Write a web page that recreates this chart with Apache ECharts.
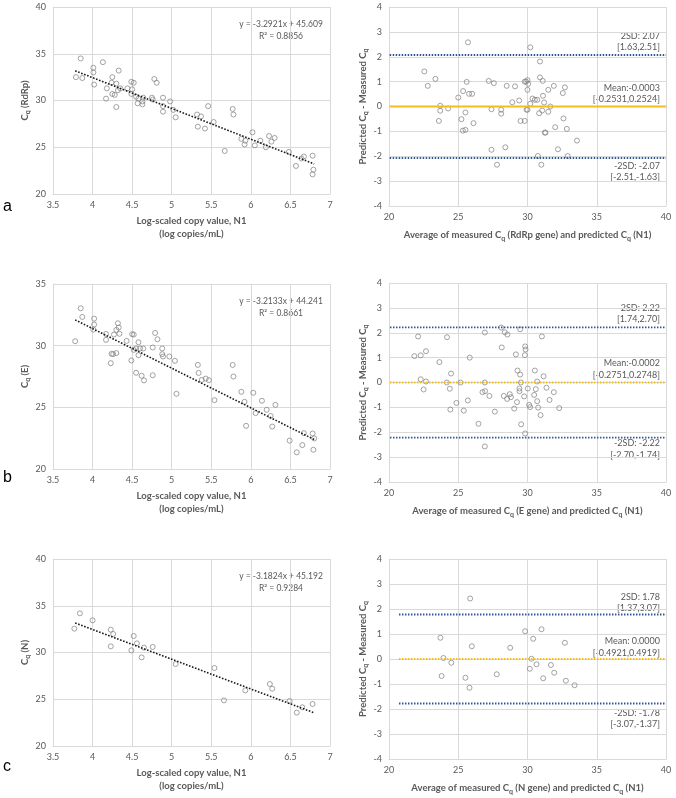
<!DOCTYPE html>
<html>
<head>
<meta charset="UTF-8">
<title>cq-regression-bland-altman</title>
<script src="https://cdn.jsdelivr.net/npm/echarts@6/dist/echarts.min.js"></script>
<style>
html, body { margin: 0; padding: 0; background: #fff; }
#main { width: 676px; height: 798px; }
</style>
</head>
<body>
<div id="main"></div>
<script>
// ---- data ----
// left column: log copies (N1) vs Cq of the other gene
var rdrpN1 = [[3.79,32.5],[3.85,34.5],[3.87,32.4],[4.01,33.5],[4.01,33.0],[4.02,31.7],[4.13,34.1],[4.17,30.2],[4.18,31.3],[4.24,31.9],[4.25,32.5],[4.25,30.7],[4.28,30.6],[4.30,31.8],[4.30,29.3],[4.33,33.2],[4.32,31.1],[4.35,31.3],[4.44,31.3],[4.49,32.0],[4.52,31.9],[4.50,31.2],[4.49,30.7],[4.55,30.4],[4.57,29.7],[4.58,30.2],[4.63,29.6],[4.63,29.9],[4.64,30.3],[4.75,30.3],[4.76,30.1],[4.78,32.3],[4.81,31.9],[4.89,30.3],[4.89,28.8],[4.89,29.4],[4.98,29.9],[5.02,29.0],[5.05,28.2],[5.32,28.5],[5.33,27.2],[5.37,28.3],[5.42,27.0],[5.46,29.4],[5.53,27.7],[5.67,24.6],[5.77,29.1],[5.78,28.5],[5.88,25.9],[5.92,25.3],[5.93,25.7],[6.02,26.6],[6.05,25.2],[6.12,25.7],[6.19,25.0],[6.23,26.2],[6.26,25.6],[6.30,26.0],[6.48,24.5],[6.57,23.0],[6.64,23.8],[6.67,24.0],[6.78,24.1],[6.79,22.6],[6.78,22.1]];
var eN1 = [[3.78,30.36],[3.85,33.03],[3.87,32.33],[4.02,32.19],[4.02,31.71],[4.01,31.3],[4.17,30.95],[4.17,30.47],[4.23,28.58],[4.24,29.34],[4.26,29.31],[4.27,30.9],[4.30,31.28],[4.30,29.4],[4.32,31.82],[4.33,31.47],[4.34,30.96],[4.43,30.39],[4.49,28.8],[4.50,30.93],[4.52,30.9],[4.52,29.66],[4.55,29.77],[4.55,27.8],[4.58,29.23],[4.58,30.28],[4.60,29.77],[4.62,27.56],[4.64,29.77],[4.65,27.18],[4.76,29.85],[4.76,27.6],[4.79,31.03],[4.82,30.52],[4.88,29.77],[4.88,29.31],[4.89,29.12],[4.97,29.12],[5.04,28.77],[5.06,26.1],[5.33,28.44],[5.34,27.79],[5.38,27.22],[5.43,27.33],[5.47,27.2],[5.54,25.58],[5.77,28.44],[5.78,27.5],[5.88,26.26],[5.92,25.45],[5.94,23.5],[6.03,26.18],[6.06,24.53],[6.14,25.53],[6.20,24.8],[6.25,24.3],[6.27,23.44],[6.31,25.2],[6.49,22.3],[6.58,21.35],[6.65,21.94],[6.67,22.91],[6.78,22.88],[6.80,22.48],[6.79,21.56]];
var nN1 = [[3.77,32.55],[3.84,34.19],[4.00,33.44],[4.23,32.44],[4.26,31.98],[4.23,30.66],[4.49,30.23],[4.52,31.76],[4.56,30.98],[4.62,29.48],[4.65,30.52],[4.76,30.59],[5.05,28.77],[5.54,28.34],[5.66,24.88],[5.93,25.95],[6.24,26.63],[6.27,26.13],[6.49,24.81],[6.58,23.57],[6.65,24.14],[6.78,24.49]];

// trend line end points
var rdrpTrend = [[3.78,33.17],[6.80,23.22]];
var eTrend = [[3.78,32.09],[6.80,22.39]];
var nTrend = [[3.78,33.16],[6.80,23.55]];
var eqText = [
  ['y = -3.2921x + 45.609', 'R\u00b2 = 0.8856'],
  ['y = -3.2133x + 44.241', 'R\u00b2 = 0.8661'],
  ['y = -3.1824x + 45.192', 'R\u00b2 = 0.9284']
];

// right column: mean of Cq vs difference (Bland-Altman)
var rdrpDiff = [[22.55,1.41],[22.8,0.83],[23.35,1.11],[23.6,-0.58],[23.7,0.03],[23.7,-0.17],[24.27,-0.08],[25.0,0.36],[25.23,-0.51],[25.33,-0.97],[25.35,0.62],[25.52,-0.24],[25.52,-0.94],[25.61,0.99],[25.7,2.58],[25.78,0.51],[26.0,0.51],[26.1,-0.67],[27.2,1.03],[27.4,-1.74],[27.4,-0.11],[27.57,0.94],[27.8,-2.34],[28.1,-0.13],[28.1,-0.29],[28.4,-1.64],[28.5,0.83],[29.1,0.81],[28.9,0.17],[29.4,0.24],[29.5,-0.58],[29.8,-0.58],[29.8,1.0],[29.9,1.0],[30.0,1.06],[30.05,0.91],[29.93,-0.13],[30.0,-0.13],[30.0,0.67],[30.2,2.38],[30.2,0.11],[30.36,0.32],[30.53,0.27],[30.7,0.27],[30.75,-1.99],[30.84,-0.27],[30.9,1.81],[30.9,1.17],[31.0,-2.34],[31.1,1.03],[31.06,-0.16],[31.12,0.43],[31.2,0.16],[31.25,-1.05],[31.3,-1.05],[31.5,0.67],[31.5,-0.21],[31.65,0.0],[31.9,0.83],[32.0,-0.83],[32.2,-1.72],[32.6,-0.48],[32.55,0.54],[32.7,0.77],[32.84,-0.9],[32.9,-1.99],[33.57,-1.37]];
var eDiff = [[21.83,1.06],[22.1,1.85],[22.29,1.09],[22.29,0.13],[22.5,-0.28],[22.67,1.26],[22.67,0.04],[23.64,0.82],[24.17,0.0],[24.19,1.82],[24.39,-0.25],[24.43,-1.09],[24.48,0.36],[24.87,-0.82],[25.16,0.0],[25.4,-1.13],[25.69,-0.72],[25.83,1.0],[26.46,-1.66],[26.75,-0.39],[26.92,2.01],[26.92,0.0],[26.94,-0.35],[27.25,-0.54],[27.64,-1.17],[28.1,2.21],[28.14,1.41],[28.29,-0.54],[28.36,2.02],[28.53,-0.66],[28.55,1.93],[28.72,-0.47],[28.8,-0.59],[29.04,-1.05],[29.16,1.13],[29.24,-0.79],[29.28,0.48],[29.42,-0.24],[29.42,-0.35],[29.47,2.14],[29.47,0.32],[29.52,0.0],[29.54,-1.68],[29.76,-0.56],[29.83,1.45],[29.86,1.33],[29.81,1.1],[29.83,-2.05],[30.02,-0.24],[30.12,-0.9],[30.19,-0.99],[30.48,-0.5],[30.53,0.48],[30.6,-0.27],[30.7,0.04],[30.7,-0.75],[30.77,-1.01],[30.94,-1.31],[31.04,1.85],[31.16,0.25],[31.37,-0.21],[31.59,-0.7],[31.9,-0.39],[32.29,-1.03],[26.92,-2.57]];
var nDiff = [[23.71,0.85],[23.8,-0.68],[23.93,0.04],[24.5,-0.15],[25.52,-0.75],[25.81,-1.15],[25.86,2.42],[25.98,0.51],[27.78,-0.61],[28.75,0.45],[29.83,1.11],[30.17,-0.39],[30.29,0.01],[30.41,0.81],[30.65,-0.21],[31.01,1.19],[31.13,-0.77],[31.69,-0.24],[31.93,-0.55],[32.7,0.65],[32.77,-0.87],[33.4,-1.05]];

// +2SD, mean, -2SD and the x range the lines cover
var rdrpLimits = [2.07, -0.0003, -2.07];
var eLimits = [2.22, -0.0002, -2.22];
var nLimits = [1.78, 0.0000, -1.78];
var rdrpLimitX = [20.05, 40];
var eLimitX = [20.07, 40];
var nLimitX = [20.72, 40];
var limitText = [
  ['2SD: 2.07', '[1.63,2.51]', 'Mean:-0.0003', '[-0.2531,0.2524]', '-2SD: -2.07', '[-2.51,-1.63]'],
  ['2SD: 2.22', '[1.74,2.70]', 'Mean:-0.0002', '[-0.2751,0.2748]', '-2SD: -2.22', '[-2.70,-1.74]'],
  ['2SD: 1.78', '[1.37,3.07]', 'Mean: 0.0000', '[-0.4921,0.4919]', '-2SD: -1.78', '[-3.07,-1.37]']
];
var genes = ['RdRp', 'E', 'N'];

// ---- layout ----
var FONT = 'Lato, "Open Sans", sans-serif';
var GREY = '#595959';
var leftGrids = [
  { left: 53, top: 7, width: 277, height: 187, yMax: 40 },
  { left: 53, top: 284, width: 277, height: 185, yMax: 35 },
  { left: 53, top: 559, width: 277, height: 187, yMax: 40 }
];
var rightGrids = [
  { left: 389, top: 7, width: 277, height: 199 },
  { left: 389, top: 283, width: 277, height: 199 },
  { left: 389, top: 559, width: 277, height: 200 }
];
var leftData = [rdrpN1, eN1, nN1];
var trends = [rdrpTrend, eTrend, nTrend];
var diffData = [rdrpDiff, eDiff, nDiff];
var limits = [rdrpLimits, eLimits, nLimits];
var limitX = [rdrpLimitX, eLimitX, nLimitX];
var meanDash = ['solid', 'dotted', 'dotted'];

var rich = {
  b: { fontFamily: FONT, fontSize: 9.5, fontWeight: 'bold', color: GREY, lineHeight: 14 },
  s: { fontFamily: FONT, fontSize: 7, fontWeight: 'bold', color: GREY, lineHeight: 7, verticalAlign: 'bottom' }
};

function axisCommon() {
  return {
    axisTick: { show: false },
    axisLine: { show: true, onZero: false, lineStyle: { color: '#d9d9d9' } },
    splitLine: { show: true, lineStyle: { color: '#d9d9d9', width: 1 } },
    axisLabel: { color: GREY, fontFamily: FONT, fontSize: 9, margin: 7 }
  };
}

var grid = [], xAxis = [], yAxis = [], series = [], graphic = [];

for (var i = 0; i < 3; i++) {
  var g = leftGrids[i];
  grid.push({ left: g.left, top: g.top, width: g.width, height: g.height });
  var gi = grid.length - 1;
  xAxis.push(Object.assign(axisCommon(), {
    type: 'value', gridIndex: gi, min: 3.5, max: 7, interval: 0.5,
    name: 'Log-scaled copy value, N1\n(log copies/mL)',
    nameLocation: 'middle', nameGap: 20,
    nameTextStyle: { fontFamily: FONT, fontSize: 9.5, fontWeight: 'bold', color: GREY, lineHeight: 13, verticalAlign: 'top' }
  }));
  yAxis.push(Object.assign(axisCommon(), {
    type: 'value', gridIndex: gi, min: 20, max: g.yMax, interval: 5,
    name: '{b|C}{s|q}{b| (' + genes[i] + ')}',
    nameLocation: 'middle', nameGap: 16, nameRotate: 90,
    nameTextStyle: { rich: rich }
  }));
  series.push({
    type: 'scatter', xAxisIndex: gi, yAxisIndex: gi, data: leftData[i],
    symbol: 'circle', symbolSize: 5, silent: true,
    itemStyle: { color: 'rgba(255,255,255,0)', borderColor: '#7f7f7f', borderWidth: 0.9 }
  });
  series.push({
    type: 'line', xAxisIndex: gi, yAxisIndex: gi, data: trends[i],
    symbol: 'none', silent: true,
    lineStyle: { color: '#1a1a1a', width: 1.6, type: [1.6, 1.6] }
  });
  graphic.push({
    type: 'text', left: g.left + 228 - 55, top: g.top + 11,
    style: { text: eqText[i][0] + '\n' + eqText[i][1], fill: GREY, font: '8.5px ' + FONT,
             align: 'center', textAlign: 'center', lineHeight: 12, width: 110 }
  });
}

for (var j = 0; j < 3; j++) {
  var r = rightGrids[j];
  grid.push({ left: r.left, top: r.top, width: r.width, height: r.height });
  var ri = grid.length - 1;
  xAxis.push(Object.assign(axisCommon(), {
    type: 'value', gridIndex: ri, min: 20, max: 40, interval: 5,
    name: '{b|Average of measured C}{s|q}{b| (' + genes[j] + ' gene) and predicted C}{s|q}{b| (N1)}',
    nameLocation: 'middle', nameGap: 22,
    nameTextStyle: { rich: rich }
  }));
  yAxis.push(Object.assign(axisCommon(), {
    type: 'value', gridIndex: ri, min: -4, max: 4, interval: 1,
    name: '{b|Predicted C}{s|q}{b| - Measured C}{s|q}',
    nameLocation: 'middle', nameGap: 18, nameRotate: 90,
    nameTextStyle: { rich: rich }
  }));
  var lim = limits[j], lx = limitX[j];
  series.push({
    type: 'line', xAxisIndex: ri, yAxisIndex: ri, data: [[lx[0], lim[0]], [lx[1], lim[0]]],
    symbol: 'none', silent: true, lineStyle: { color: '#2e5597', width: 1.8, type: [1.5, 1.5] }
  });
  series.push({
    type: 'line', xAxisIndex: ri, yAxisIndex: ri, data: [[lx[0], lim[2]], [lx[1], lim[2]]],
    symbol: 'none', silent: true, lineStyle: { color: '#2e5597', width: 1.8, type: [1.5, 1.5] }
  });
  series.push({
    type: 'line', xAxisIndex: ri, yAxisIndex: ri, data: [[lx[0], lim[1]], [lx[1], lim[1]]],
    symbol: 'none', silent: true,
    lineStyle: { color: '#f2bd1d', width: 1.8, type: meanDash[j] === 'solid' ? 'solid' : [1.5, 1.5] }
  });
  series.push({
    type: 'scatter', xAxisIndex: ri, yAxisIndex: ri, data: diffData[j],
    symbol: 'circle', symbolSize: 5, silent: true,
    itemStyle: { color: 'rgba(255,255,255,0)', borderColor: '#7f7f7f', borderWidth: 0.9 }
  });
}

// limit labels, right aligned inside each Bland-Altman panel
var labelY = [
  [36, 47, 88, 99, 166, 177],
  [308, 319, 363, 375, 443, 455],
  [597, 608, 641, 653, 713, 724]
];
for (var k = 0; k < 3; k++) {
  for (var m = 0; m < 6; m++) {
    graphic.push({
      type: 'text', x: 660, y: labelY[k][m],
      style: { text: limitText[k][m], fill: GREY, font: '9px ' + FONT,
               align: 'right', textAlign: 'right', verticalAlign: 'middle', textVerticalAlign: 'middle' }
    });
  }
}

// panel letters
var letters = [['a', 207], ['b', 478], ['c', 767]];
letters.forEach(function (l) {
  graphic.push({
    type: 'text', x: 3, y: l[1],
    style: { text: l[0], fill: '#000', font: '16px "Liberation Sans", Arial, sans-serif',
             verticalAlign: 'middle', textVerticalAlign: 'middle' }
  });
});

var myChart = echarts.init(document.getElementById('main'), null, { renderer: 'canvas' });
myChart.setOption({
  animation: false,
  backgroundColor: '#fff',
  grid: grid,
  xAxis: xAxis,
  yAxis: yAxis,
  series: series,
  graphic: graphic
});
</script>
</body>
</html>
